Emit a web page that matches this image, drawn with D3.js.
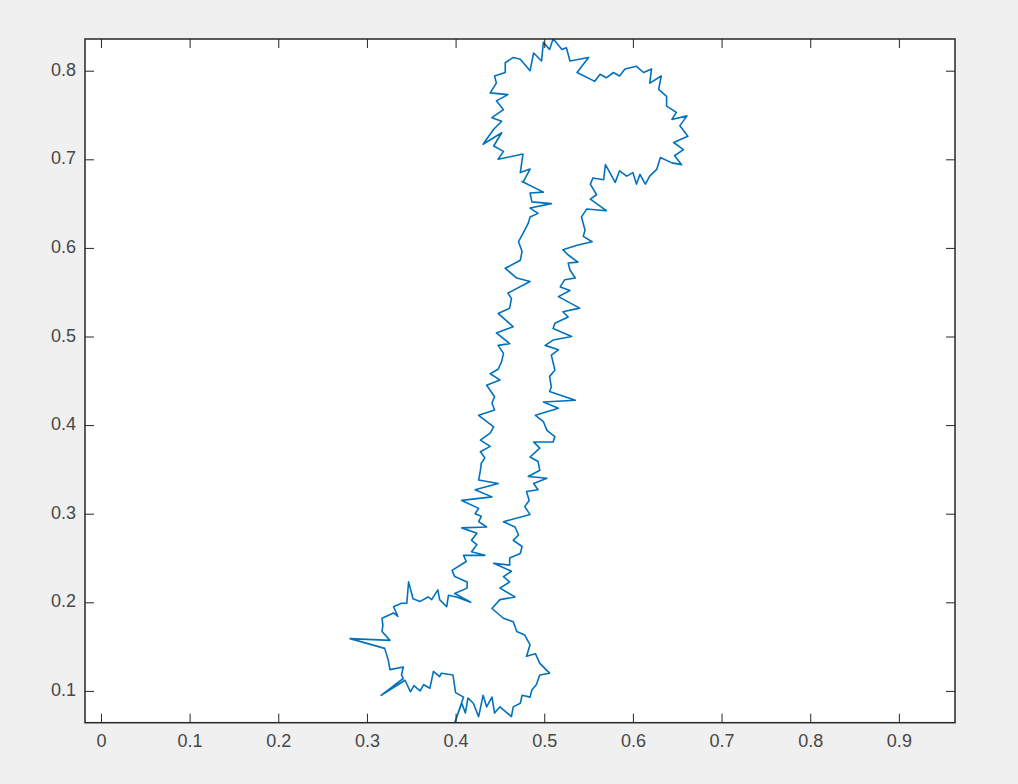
<!DOCTYPE html>
<html>
<head>
<meta charset="utf-8">
<script src="https://cdn.jsdelivr.net/npm/d3@7"></script>
<style>
  html, body { margin: 0; padding: 0; background: #f0f0f0; }
  svg { display: block; }
</style>
</head>
<body>
<div id="chart"></div>
<script>
// tick values
const xTicks = [0, 0.1, 0.2, 0.3, 0.4, 0.5, 0.6, 0.7, 0.8, 0.9];
const yTicks = [0.1, 0.2, 0.3, 0.4, 0.5, 0.6, 0.7, 0.8];

// outline ([x, y])
// top knob, from the left wall round to the right wall
const topBlob = [
    [0.476, 0.674], [0.484, 0.689], [0.473, 0.685], [0.476, 0.706], [0.448, 0.700], [0.454, 0.709],
    [0.443, 0.715], [0.452, 0.730], [0.431, 0.717], [0.443, 0.734], [0.452, 0.743], [0.441, 0.747],
    [0.454, 0.756], [0.446, 0.766], [0.459, 0.773], [0.439, 0.775], [0.446, 0.786], [0.444, 0.794],
    [0.456, 0.798], [0.456, 0.809], [0.465, 0.815], [0.473, 0.813], [0.484, 0.800], [0.488, 0.820],
    [0.497, 0.811], [0.499, 0.832], [0.506, 0.824], [0.510, 0.836], [0.520, 0.824], [0.525, 0.826],
    [0.529, 0.811], [0.550, 0.815], [0.537, 0.798], [0.557, 0.788], [0.563, 0.796], [0.570, 0.792],
    [0.578, 0.798], [0.585, 0.794], [0.591, 0.802], [0.604, 0.805], [0.612, 0.798], [0.621, 0.802],
    [0.619, 0.786], [0.632, 0.794], [0.629, 0.779], [0.638, 0.771], [0.638, 0.760], [0.649, 0.753],
    [0.644, 0.745], [0.661, 0.749], [0.653, 0.738], [0.662, 0.726], [0.646, 0.719], [0.657, 0.711],
    [0.647, 0.704], [0.655, 0.694], [0.644, 0.696], [0.631, 0.702], [0.627, 0.689], [0.619, 0.681],
    [0.614, 0.672], [0.608, 0.683], [0.604, 0.672], [0.600, 0.685], [0.593, 0.681], [0.585, 0.687],
    [0.580, 0.674], [0.574, 0.685], [0.569, 0.694], [0.567, 0.677], [0.555, 0.679], [0.552, 0.672],
    [0.559, 0.660], [0.552, 0.655], [0.570, 0.642], [0.548, 0.644]
];

// right side of the shaft, going down
const rightWall = [
    [0.542, 0.635], [0.546, 0.620], [0.544, 0.613], [0.554, 0.607], [0.537, 0.603], [0.521, 0.598],
    [0.527, 0.592], [0.538, 0.584], [0.527, 0.583], [0.529, 0.575], [0.535, 0.566], [0.523, 0.564],
    [0.518, 0.556], [0.529, 0.552], [0.516, 0.545], [0.540, 0.532], [0.521, 0.528], [0.527, 0.522],
    [0.512, 0.515], [0.510, 0.509], [0.531, 0.500], [0.510, 0.496], [0.501, 0.490], [0.516, 0.485],
    [0.508, 0.479], [0.512, 0.462], [0.506, 0.455], [0.508, 0.443], [0.506, 0.438], [0.535, 0.428],
    [0.499, 0.426], [0.516, 0.419], [0.490, 0.411], [0.499, 0.404], [0.503, 0.394], [0.512, 0.387],
    [0.510, 0.381], [0.488, 0.381], [0.495, 0.374], [0.484, 0.364], [0.493, 0.359], [0.495, 0.349],
    [0.482, 0.342], [0.503, 0.340], [0.488, 0.334], [0.493, 0.327], [0.480, 0.325], [0.483, 0.315],
    [0.478, 0.308], [0.484, 0.299], [0.454, 0.291], [0.467, 0.285], [0.471, 0.276], [0.465, 0.270],
    [0.475, 0.263], [0.473, 0.255], [0.461, 0.250], [0.461, 0.242], [0.443, 0.244], [0.463, 0.235],
    [0.454, 0.229], [0.461, 0.223], [0.450, 0.216], [0.467, 0.206], [0.450, 0.203], [0.441, 0.193]
];

// bottom knob, right half then the lower edge of the left half
const bottomBlob = [
    [0.454, 0.182], [0.465, 0.178], [0.469, 0.167], [0.478, 0.163], [0.484, 0.152], [0.480, 0.139],
    [0.490, 0.142], [0.495, 0.131], [0.506, 0.120], [0.495, 0.118], [0.491, 0.107], [0.486, 0.101],
    [0.484, 0.093], [0.475, 0.095], [0.473, 0.086], [0.465, 0.082], [0.463, 0.071], [0.456, 0.077],
    [0.450, 0.082], [0.444, 0.075], [0.441, 0.093], [0.435, 0.082], [0.431, 0.095], [0.426, 0.071],
    [0.420, 0.086], [0.414, 0.092], [0.411, 0.075], [0.407, 0.086], [0.399, 0.064], [0.409, 0.093],
    [0.400, 0.098], [0.397, 0.118], [0.384, 0.120], [0.382, 0.116], [0.375, 0.122], [0.371, 0.103],
    [0.364, 0.107], [0.360, 0.100], [0.353, 0.106], [0.349, 0.099], [0.343, 0.112], [0.316, 0.095],
    [0.341, 0.114], [0.339, 0.118], [0.341, 0.127], [0.326, 0.124], [0.324, 0.135], [0.320, 0.148],
    [0.281, 0.159], [0.326, 0.157], [0.317, 0.167], [0.318, 0.174], [0.317, 0.182], [0.330, 0.188],
    [0.335, 0.184], [0.330, 0.195], [0.339, 0.199], [0.345, 0.199], [0.347, 0.223], [0.352, 0.204],
    [0.360, 0.201], [0.369, 0.206], [0.373, 0.203], [0.380, 0.214], [0.382, 0.203], [0.390, 0.195],
    [0.392, 0.208], [0.401, 0.206], [0.417, 0.200], [0.399, 0.210], [0.413, 0.216], [0.413, 0.223],
    [0.399, 0.229], [0.396, 0.236], [0.412, 0.246]
];

// left side of the shaft, going up
const leftWall = [
    [0.409, 0.253], [0.433, 0.253], [0.418, 0.257], [0.424, 0.265], [0.418, 0.270], [0.424, 0.278],
    [0.407, 0.284], [0.435, 0.285], [0.426, 0.291], [0.429, 0.297], [0.422, 0.300], [0.426, 0.306],
    [0.407, 0.315], [0.441, 0.319], [0.422, 0.327], [0.448, 0.334], [0.426, 0.338], [0.428, 0.349],
    [0.429, 0.357], [0.433, 0.363], [0.428, 0.370], [0.439, 0.376], [0.428, 0.383], [0.439, 0.391],
    [0.443, 0.398], [0.426, 0.411], [0.444, 0.417], [0.441, 0.425], [0.444, 0.432], [0.435, 0.445],
    [0.450, 0.451], [0.439, 0.458], [0.448, 0.463], [0.452, 0.472], [0.454, 0.481], [0.448, 0.490],
    [0.461, 0.492], [0.446, 0.504], [0.465, 0.511], [0.448, 0.526], [0.461, 0.532], [0.463, 0.543],
    [0.459, 0.549], [0.484, 0.562], [0.469, 0.566], [0.456, 0.577], [0.473, 0.586], [0.475, 0.596],
    [0.471, 0.607], [0.478, 0.620], [0.482, 0.628], [0.484, 0.635], [0.493, 0.639], [0.484, 0.645],
    [0.508, 0.650], [0.486, 0.652], [0.484, 0.662], [0.499, 0.663], [0.475, 0.675], [0.476, 0.674]
];

const outline = [...topBlob, ...rightWall, ...bottomBlob, ...leftWall];

const width = 1018, height = 784;
const box = { left: 85, right: 955, top: 39, bottom: 722.7 };

const svg = d3.select("#chart").append("svg")
    .attr("width", width)
    .attr("height", height);

svg.append("rect")
    .attr("width", width)
    .attr("height", height)
    .attr("fill", "#f0f0f0");

// axis equal, y tight to the data
const x = d3.scaleLinear([-0.018, 0.9633], [box.left, box.right]);
const y = d3.scaleLinear([0.0641, 0.8358], [box.bottom, box.top]);

svg.append("rect")
    .attr("x", box.left)
    .attr("y", box.top)
    .attr("width", box.right - box.left)
    .attr("height", box.bottom - box.top)
    .attr("fill", "#fff");

svg.append("defs").append("clipPath").attr("id", "clip")
    .append("rect")
    .attr("x", box.left)
    .attr("y", box.top)
    .attr("width", box.right - box.left)
    .attr("height", box.bottom - box.top);

const line = d3.line()
    .x(d => x(d[0]))
    .y(d => y(d[1]));

svg.append("path")
    .datum(outline)
    .attr("clip-path", "url(#clip)")
    .attr("fill", "none")
    .attr("stroke", "#0072bd")
    .attr("stroke-width", 1.6)
    .attr("stroke-linejoin", "round")
    .attr("d", line);

const fmt = d => d === 0 ? "0" : d3.format(".1f")(d);

const styleAxis = g => {
    g.select(".domain").remove();
    g.selectAll(".tick line").attr("stroke", "#262626");
    g.selectAll(".tick text")
        .attr("fill", "#474747")
        .style("font-family", "'Liberation Sans', Arial, Helvetica, sans-serif")
        .style("font-size", "18px");
};

svg.append("g")
    .attr("transform", `translate(0,${box.bottom})`)
    .call(d3.axisBottom(x).tickValues(xTicks).tickFormat(fmt).tickSize(-9).tickPadding(11.5))
    .call(styleAxis);

svg.append("g")
    .attr("transform", `translate(0,${box.top})`)
    .call(d3.axisTop(x).tickValues(xTicks).tickFormat("").tickSize(-9))
    .call(styleAxis);

svg.append("g")
    .attr("transform", `translate(${box.left},0)`)
    .call(d3.axisLeft(y).tickValues(yTicks).tickFormat(fmt).tickSize(-9).tickPadding(9))
    .call(styleAxis)
    .call(g => g.selectAll(".tick text").attr("dy", "0.25em"));

svg.append("g")
    .attr("transform", `translate(${box.right},0)`)
    .call(d3.axisRight(y).tickValues(yTicks).tickFormat("").tickSize(-9))
    .call(styleAxis);

// box
svg.append("rect")
    .attr("x", box.left)
    .attr("y", box.top)
    .attr("width", box.right - box.left)
    .attr("height", box.bottom - box.top)
    .attr("fill", "none")
    .attr("stroke", "#262626")
    .attr("stroke-width", 1.5);
</script>
</body>
</html>
